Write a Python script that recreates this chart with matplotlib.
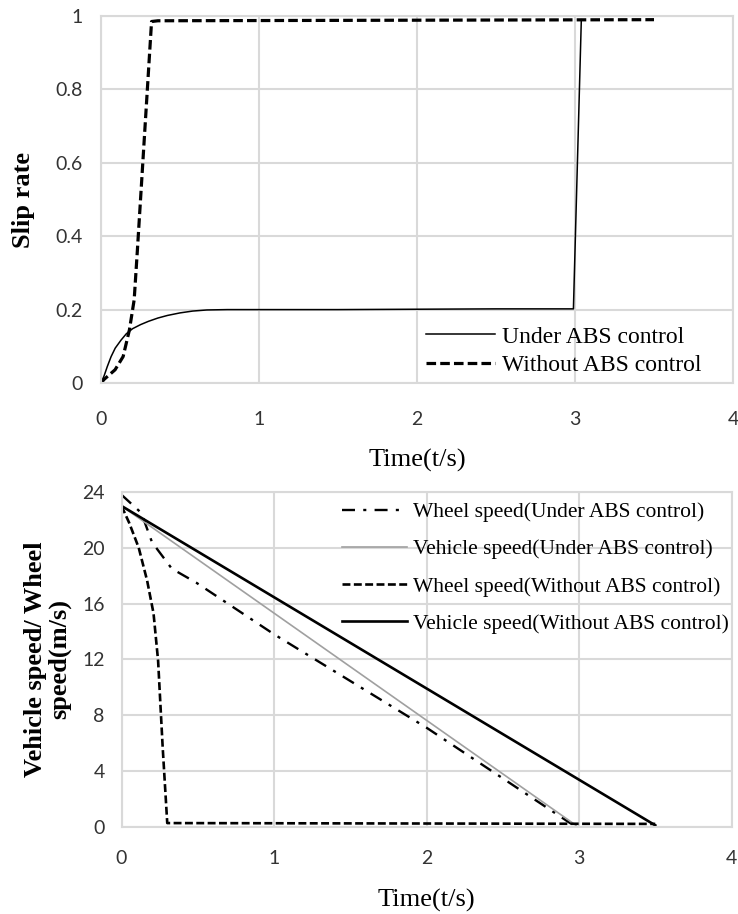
import matplotlib
matplotlib.use("Agg")
import matplotlib.pyplot as plt

# slip rate (top)
t_slip_abs = [0, 0.02, 0.04, 0.064, 0.09, 0.127, 0.16, 0.2, 0.25, 0.3, 0.36, 0.42, 0.5, 0.58,
              0.67, 0.8, 1.0, 1.5, 2.0, 2.5, 2.99, 3.04]
slip_abs = [0, 0.02, 0.045, 0.072, 0.095, 0.117, 0.134, 0.148, 0.159, 0.168, 0.177, 0.184, 0.191,
            0.196, 0.199, 0.2, 0.2, 0.2, 0.201, 0.202, 0.202, 0.99]
t_slip_no = [0, 0.02, 0.089, 0.14, 0.18, 0.21, 0.23, 0.32, 0.36, 3.5]
slip_no = [0, 0.01, 0.036, 0.072, 0.145, 0.227, 0.36, 0.985, 0.987, 0.99]

# speeds (bottom)
t_wheel_abs = [0, 0.13, 0.2, 0.33, 0.49, 1.0, 2.0, 2.95]
wheel_abs = [23.8, 22.5, 20.4, 18.5, 17.5, 13.8, 7.1, 0.2]
t_veh_abs = [0, 2.98]
veh_abs = [23, 0.1]
t_wheel_no = [0, 0.05, 0.113, 0.168, 0.21, 0.24, 0.27, 0.30, 3.5]
wheel_no = [23, 21.8, 20.0, 17.65, 15.3, 11.9, 5.7, 0.26, 0.2]
t_veh_no = [0, 3.5]
veh_no = [23, 0.1]

serif = "Liberation Serif"
tick_font = "Lato"
grid_c = "#d9d9d9"

fig = plt.figure(figsize=(7.38, 9.14), dpi=100)
ax1 = fig.add_axes([101 / 738, 1 - 383 / 914, 632 / 738, 367 / 914])
ax2 = fig.add_axes([121.5 / 738, 1 - 826.7 / 914, 610 / 738, 334.7 / 914])


def style(ax):
    ax.grid(True, color=grid_c, lw=1.5)
    ax.set_axisbelow(True)
    for s in ax.spines.values():
        s.set_color(grid_c)
        s.set_linewidth(1.5)
    ax.tick_params(length=0, labelsize=14, labelcolor="#333333")
    for lab in ax.get_xticklabels() + ax.get_yticklabels():
        lab.set_fontfamily(tick_font)


# top chart
ax1.plot(t_slip_abs, slip_abs, color="black", lw=1.1, label="Under ABS control")
ax1.plot(t_slip_no, slip_no, color="black", lw=2.3, dashes=(3, 1.3), label="Without ABS control")
ax1.set_xlim(0, 4)
ax1.set_ylim(0, 1)
ax1.set_xticks([0, 1, 2, 3, 4])
ax1.set_yticks([0, 0.2, 0.4, 0.6, 0.8, 1])
ax1.set_yticklabels(["0", "0.2", "0.4", "0.6", "0.8", "1"])
ax1.tick_params(axis="x", pad=20)
ax1.tick_params(axis="y", pad=13)
style(ax1)
ax1.set_xlabel("Time(t/s)", fontfamily=serif, fontsize=19)
ax1.xaxis.set_label_coords(0.5, -0.18)
ax1.set_ylabel("Slip rate", fontfamily=serif, fontsize=19, fontweight="bold")
ax1.yaxis.set_label_coords(-0.105, 0.5)
ax1.legend(loc="upper left", bbox_to_anchor=(0.515, 0.155), frameon=False,
           prop={"family": serif, "size": 17}, handlelength=2.9,
           handletextpad=0.3, labelspacing=0.3, borderpad=0, borderaxespad=0)

# bottom chart
ax2.plot(t_wheel_abs, wheel_abs, color="black", lw=1.7, dashes=(5.5, 3.5, 1.3, 3.5),
         label="Wheel speed(Under ABS control)")
ax2.plot(t_veh_abs, veh_abs, color="#a0a0a0", lw=1.2, label="Vehicle speed(Under ABS control)")
ax2.plot(t_wheel_no, wheel_no, color="black", lw=1.9, dashes=(3, 1.3),
         label="Wheel speed(Without ABS control)")
ax2.plot(t_veh_no, veh_no, color="black", lw=1.9, label="Vehicle speed(Without ABS control)")
ax2.set_xlim(0, 4)
ax2.set_ylim(0, 24)
ax2.set_xticks([0, 1, 2, 3, 4])
ax2.set_yticks([0, 4, 8, 12, 16, 20, 24])
ax2.tick_params(axis="x", pad=17)
ax2.tick_params(axis="y", pad=12)
style(ax2)
ax2.set_xlabel("Time(t/s)", fontfamily=serif, fontsize=19)
ax2.xaxis.set_label_coords(0.5, -0.185)
ax2.set_ylabel("Vehicle speed/ Wheel\nspeed(m/s)", fontfamily=serif, fontsize=19,
               fontweight="bold", linespacing=1.05)
ax2.yaxis.set_label_coords(-0.082, 0.5)
ax2.legend(loc="upper left", bbox_to_anchor=(0.362, 0.97), frameon=False,
           prop={"family": serif, "size": 15.5}, handlelength=3.0,
           handletextpad=0.3, labelspacing=0.8, borderpad=0, borderaxespad=0)

fig.savefig("out.png", dpi=100)
